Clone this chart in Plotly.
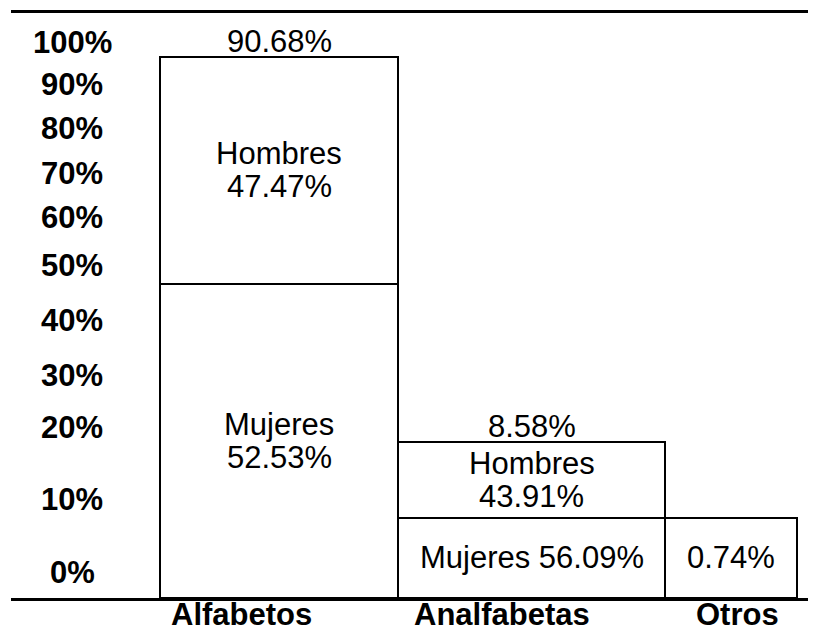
import plotly.graph_objects as go

# ---------------- data ----------------
categories = ["Alfabetos", "Analfabetas", "Otros"]
total_pct = ["90.68%", "8.58%", None]
lower_text = ["Mujeres\n52.53%", "Mujeres 56.09%", "0.74%"]
upper_text = ["Hombres\n47.47%", "Hombres\n43.91%", None]
# segment heights as drawn, on the chart's own vertical scale (0-100 = full plot height)
lower_h = [53.7, 13.7, 13.7]
upper_h = [38.8, 13.0, None]
y_tick_labels = ["0%", "10%", "20%", "30%", "40%", "50%", "60%", "70%", "80%", "90%", "100%"]
y_tick_pos = [4.3, 16.9, 29.1, 38.1, 47.4, 56.9, 65.1, 72.5, 80.3, 87.7, 95.0]

# ---------------- layout constants ----------------
FONT = "Liberation Sans"
FS = 31
bar_left = 149
bar_widths = [238, 267, 132]
cat_label_x = [230, 491, 726]
tick_label_x = 61

centers = []
edge = bar_left
for w in bar_widths:
    centers.append(edge + w / 2)
    edge += w

fig = go.Figure()
fig.add_trace(go.Bar(
    x=centers, y=lower_h, width=bar_widths,
    marker=dict(color="white", line=dict(color="black", width=2)),
    hoverinfo="skip", showlegend=False))
fig.add_trace(go.Bar(
    x=centers, y=upper_h, width=bar_widths,
    marker=dict(color="white", line=dict(color="black", width=2)),
    hoverinfo="skip", showlegend=False))

annotations = []


def add_text(x, y, text):
    lines = text.split("\n")
    n = len(lines)
    for i, ln in enumerate(lines):
        shift = ((n - 1) / 2 - i) * 33
        annotations.append(dict(x=x, y=y, xref="x", yref="y", text=ln, showarrow=False,
                                xanchor="center", yanchor="middle", yshift=shift,
                                font=dict(family=FONT, size=FS, color="black")))


for i, c in enumerate(centers):
    base = 0
    if lower_h[i] is not None:
        add_text(c, base + lower_h[i] / 2, lower_text[i])
        base += lower_h[i]
    if upper_h[i] is not None and upper_text[i]:
        add_text(c, base + upper_h[i] / 2, upper_text[i])
        base += upper_h[i]
    if total_pct[i]:
        annotations.append(dict(x=c, y=base, xref="x", yref="y", text=total_pct[i], showarrow=False,
                                xanchor="center", yanchor="middle", yshift=15,
                                font=dict(family=FONT, size=FS, color="black")))

# y-axis labels (centred, bold)
for lab, pos in zip(y_tick_labels, y_tick_pos):
    annotations.append(dict(x=tick_label_x, y=pos, xref="x", yref="y", text=lab, showarrow=False,
                            xanchor="center", yanchor="middle",
                            font=dict(family=FONT, size=FS, color="black", weight="bold")))

# category labels under the axis
for lab, xc in zip(categories, cat_label_x):
    annotations.append(dict(x=xc, y=0, xref="x", yref="y", text=lab, showarrow=False,
                            xanchor="center", yanchor="middle", yshift=-16, height=28,
                            font=dict(family=FONT, size=FS, color="black", weight="bold")))

fig.update_layout(
    width=813, height=630,
    margin=dict(l=11, r=5, t=13, b=32),
    paper_bgcolor="white", plot_bgcolor="white",
    barmode="stack", bargap=0,
    annotations=annotations,
    xaxis=dict(range=[0, 797], showgrid=False, zeroline=False, automargin=False,
               showline=True, mirror=True, linecolor="black", linewidth=3,
               showticklabels=False, ticks=""),
    yaxis=dict(range=[0, 100], showgrid=False, zeroline=False, showline=False, automargin=False,
               showticklabels=False, ticks=""),
)

fig.write_html("out.html", config={"displayModeBar": False},
               post_script="document.body.style.margin='0';document.body.style.overflow='hidden';")
